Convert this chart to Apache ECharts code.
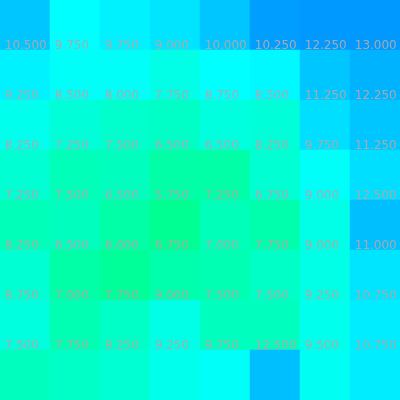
<!DOCTYPE html>
<html>
<head>
<meta charset="utf-8">
<script src="https://cdn.jsdelivr.net/npm/echarts@6/dist/echarts.min.js"></script>
<style>html,body{margin:0;padding:0;background:#fff}#c{width:400px;height:400px}</style>
</head>
<body>
<div id="c"></div>
<script>
var xCats = ['0','1','2','3','4','5','6','7'];
var yCats = ['0','1','2','3','4','5','6','7'];
var row0 = [12.25, 10.0, 10.5, 11.0, 12.25, 13.75, 14.0, 14.0];
var row1 = [10.5, 9.75, 9.75, 9.0, 10.0, 10.25, 12.25, 13.0];
var row2 = [9.25, 8.5, 8.0, 7.75, 8.75, 8.5, 11.25, 12.25];
var row3 = [8.25, 7.25, 7.5, 6.5, 6.5, 8.25, 9.75, 11.25];
var row4 = [7.25, 7.5, 6.5, 5.75, 7.25, 6.75, 9.0, 12.5];
var row5 = [8.25, 6.5, 6.0, 6.75, 7.0, 7.75, 9.0, 11.0];
var row6 = [8.75, 7.0, 7.75, 9.0, 7.5, 7.5, 9.25, 10.75];
var row7 = [7.5, 7.75, 8.25, 9.25, 9.75, 12.5, 9.5, 10.75];
var rows = [row0, row1, row2, row3, row4, row5, row6, row7];

var data = [];
rows.forEach(function (r, yi) {
  r.forEach(function (v, xi) { data.push([xi, yi, v]); });
});

var chart = echarts.init(document.getElementById('c'));
chart.setOption({
  animation: false,
  grid: { left: 0, right: 0, top: 0, bottom: 0 },
  xAxis: { type: 'category', data: xCats, show: false },
  yAxis: { type: 'category', data: yCats, inverse: true, show: false },
  visualMap: {
    show: false, type: 'continuous', min: 0, max: 20, dimension: 2,
    inRange: { color: ['#00ff00', '#00ffff', '#0000ff'] }
  },
  series: [{
    type: 'heatmap',
    data: data,
    label: {
      show: true,
      position: [5, 2],
      align: 'left',
      verticalAlign: 'bottom',
      color: '#aaaaaa',
      fontSize: 12,
      fontFamily: 'DejaVu Sans',
      formatter: function (p) { return p.value[2].toFixed(3); }
    },
    itemStyle: { borderWidth: 0 }
  }]
});
</script>
</body>
</html>
